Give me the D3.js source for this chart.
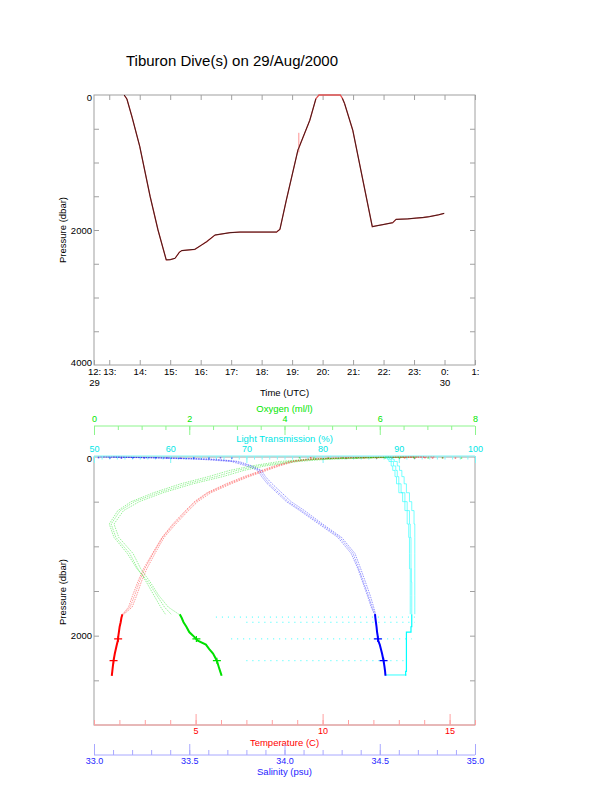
<!DOCTYPE html>
<html>
<head>
<meta charset="utf-8">
<script src="https://cdn.jsdelivr.net/npm/d3@7"></script>
<style>
    body { margin: 0; background: #fff; }
</style>
</head>
<body>
<svg width="612" height="785"></svg>
<script>
// ---- top plot data: dive track (hours UTC since 00:00 on 29 Aug, pressure dbar)
const diveTime = [13.49, 13.58, 13.75, 14.0, 14.34, 14.6, 14.87, 15.0, 15.16, 15.3, 15.38, 15.81, 16.03, 16.20, 16.47, 16.96, 17.29, 18.49, 18.60,
    18.81, 19.19, 19.58, 19.78, 19.88, 20.58, 20.65, 20.72, 20.99, 21.63, 21.75, 21.98, 22.30, 22.41, 22.80, 23.07, 23.30, 23.50, 23.80, 23.99];
const divePres = [0, 60, 330, 760, 1500, 2000, 2443, 2440, 2419, 2330, 2305, 2286, 2222, 2172, 2074, 2040, 2030, 2030, 1990,
    1557, 817, 374, 55, 0, 0, 50, 125, 522, 1951, 1940, 1920, 1892, 1843, 1835, 1823, 1815, 1803, 1775, 1753];
// red glitch on the ascent
const glitchTime = [19.22, 19.22];
const glitchPres = [560, 850];

const hourTicks = [12.5, 13, 14, 15, 16, 17, 18, 19, 20, 21, 22, 23, 24, 25];
const hourLabels = ["12:", "13:", "14:", "15:", "16:", "17:", "18:", "19:", "20:", "21:", "22:", "23:", "0:", "1:"];
const dateTicks = [12.5, 24];
const dateLabels = ["29", "30"];
const diveYTicks = [0, 2000, 4000];

// ---- bottom plot data: profiles, three casts each
const castPres = [0, 10, 25, 50, 100, 150, 220, 300, 400, 500, 600, 750, 900, 1080, 1250, 1400, 1550, 1680, 1760];
const tempCast1 = [14.0, 11.0, 9.5, 8.8, 8.2, 7.7, 7.0, 6.3, 5.5, 5.0, 4.65, 4.15, 3.7, 3.33, 3.0, 2.78, 2.6, 2.42, 2.15];
const tempCast2 = [13.6, 10.7, 9.3, 8.7, 8.1, 7.6, 6.9, 6.2, 5.45, 4.95, 4.6, 4.1, 3.68, 3.3, 2.95, 2.72, 2.52, 2.36, 2.12];
const tempCast3 = [14.4, 11.3, 9.7, 8.9, 8.3, 7.8, 7.1, 6.4, 5.6, 5.08, 4.72, 4.22, 3.76, 3.4, 3.08, 2.86, 2.68, 2.5, 2.18];
const salCast1 = [33.05, 33.35, 33.6, 33.74, 33.82, 33.87, 33.89, 33.92, 33.97, 34.02, 34.09, 34.19, 34.29, 34.36, 34.39, 34.415, 34.44, 34.46, 34.475];
const salCast2 = [33.1, 33.4, 33.64, 33.76, 33.83, 33.88, 33.9, 33.935, 33.985, 34.035, 34.105, 34.2, 34.3, 34.37, 34.4, 34.425, 34.45, 34.468, 34.478];
const salCast3 = [33.02, 33.3, 33.55, 33.72, 33.8, 33.86, 33.88, 33.91, 33.96, 34.01, 34.08, 34.18, 34.28, 34.35, 34.385, 34.41, 34.435, 34.455, 34.472];
const oxyCast1 = [6.5, 5.6, 4.7, 4.1, 3.45, 3.0, 2.55, 1.95, 1.35, 0.85, 0.55, 0.36, 0.46, 0.75, 0.92, 1.1, 1.26, 1.4, 1.5];
const oxyCast2 = [6.2, 5.3, 4.5, 3.9, 3.3, 2.85, 2.4, 1.82, 1.25, 0.78, 0.5, 0.32, 0.42, 0.7, 0.9, 1.14, 1.32, 1.48, 1.62];
const oxyCast3 = [6.8, 5.9, 4.9, 4.3, 3.6, 3.15, 2.7, 2.08, 1.45, 0.95, 0.62, 0.42, 0.52, 0.82, 0.98, 1.18, 1.36, 1.56, 1.78];
const ltCast1 = [88.4, 88.6, 88.8, 89.0, 89.3, 89.6, 89.8, 90.0, 90.3, 90.8, 91.1, 91.4, 91.5, 91.6, 91.6, 91.65, 91.7, 91.7, 91.7];
const ltCast2 = [88.8, 89.0, 89.2, 89.4, 89.8, 90.1, 90.4, 90.7, 91.0, 91.4, 91.7, 92.0, 92.1, 92.1, 92.1, 92.1, 92.1, 92.1, 92.1];
const ltCast3 = [88.2, 88.3, 88.5, 88.7, 89.0, 89.2, 89.5, 89.7, 90.0, 90.5, 90.8, 91.1, 91.3, 91.4, 91.4, 91.5, 91.5, 91.5, 91.5];

// bottom time (dense, drawn bold)
const deepPres = [1760, 1800, 1850, 1900, 1960, 2000, 2055, 2100, 2150, 2200, 2280, 2350, 2400, 2449];
const tempDeep = [2.12, 2.08, 2.05, 2.01, 1.98, 1.96, 1.94, 1.9, 1.86, 1.82, 1.77, 1.74, 1.72, 1.7];
const salDeep = [34.475, 34.477, 34.48, 34.483, 34.486, 34.489, 34.492, 34.5, 34.506, 34.512, 34.52, 34.525, 34.528, 34.53];
const oxyDeep = [1.8, 1.84, 1.88, 1.94, 2.0, 2.08, 2.18, 2.35, 2.42, 2.5, 2.58, 2.62, 2.65, 2.68];
const ltDeep = [91.7, 91.7, 91.7, 91.7, 91.6, 91.0, 91.0, 91.0, 91.0, 91.0, 91.0, 91.0, 91.0, 90.9];

// light transmission drop-outs at depth
const spikePres = [1792, 1850, 2036, 2280, 2440];
const spikeLow = [66, 70, 68, 70, 88.2];
const spikeHigh = [92.1, 92.1, 91.7, 91.0, 91.0];

// "+" marks where the vehicle sat
const crossPres = [2036, 2280];
const crossTemp = [1.95, 1.77];
const crossSal = [34.49, 34.52];
const crossOxy = [2.15, 2.58];

// surface scatter
const surfPres = [2, 5, 8, 3, 6, 1, 4, 7, 2, 5, 3, 6];
const tempSurf = [9.5, 10.2, 10.9, 11.6, 12.1, 12.7, 13.2, 13.6, 14.0, 14.3, 14.7, 15.2];
const oxySurf = [4.3, 4.6, 4.9, 5.2, 5.5, 5.8, 6.1, 6.4, 6.7, 7.0, 7.3, 7.7];
const salSurf = [33.02, 33.08, 33.14, 33.2, 33.26, 33.32, 33.38, 33.45, 33.52, 33.6, 33.66, 33.72];

// axis ticks
const tempTicks = [5, 10, 15];
const salTicks = [33.0, 33.5, 34.0, 34.5, 35.0];
const oxyTicks = [0, 2, 4, 6, 8];
const ltTicks = [50, 60, 70, 80, 90, 100];
const profYTicks = [0, 2000];

let svg = d3.select("svg").style("font-family", "'Liberation Sans', Arial, sans-serif");
const boxGray = "#a0a0a0";

// style an axis group after calling it
function styleAxis(g, lineColor, textColor, fontSize) {
    g.select(".domain").remove();
    g.selectAll(".tick line").attr("stroke", lineColor);
    g.selectAll(".tick text").attr("fill", textColor).style("font-size", fontSize + "px")
        .style("font-family", "'Liberation Sans', Arial, sans-serif");
}

// title
svg.append("text")
    .attr("x", 232).attr("y", 66)
    .attr("text-anchor", "middle")
    .style("font-size", "15px")
    .text("Tiburon Dive(s) on 29/Aug/2000");

// ================= top plot =================
let tx = d3.scaleLinear().domain([12.5, 25]).range([94, 475]);
let ty = d3.scaleLinear().domain([0, 4000]).range([95, 365]);

svg.append("rect")
    .attr("x", tx(12.5)).attr("y", ty(0))
    .attr("width", tx(25) - tx(12.5)).attr("height", ty(4000) - ty(0))
    .attr("fill", "none").attr("stroke", boxGray);

// hour ticks top and bottom
svg.append("g").attr("transform", "translate(0," + ty(0) + ")")
    .call(d3.axisTop(tx).tickValues(hourTicks.slice(1)).tickSize(-5).tickFormat(""))
    .call(g => styleAxis(g, boxGray, "#000", 9));
svg.append("g").attr("transform", "translate(0," + ty(4000) + ")")
    .call(d3.axisBottom(tx).tickValues(hourTicks).tickSize(-5).tickPadding(3)
        .tickFormat((d, i) => hourLabels[i]))
    .call(g => styleAxis(g, boxGray, "#000", 9.5));
svg.append("g").attr("transform", "translate(0," + (ty(4000) + 11) + ")")
    .call(d3.axisBottom(tx).tickValues(dateTicks).tickSize(0).tickPadding(3)
        .tickFormat((d, i) => dateLabels[i]))
    .call(g => styleAxis(g, boxGray, "#000", 9.5));

// pressure ticks left and right
svg.append("g").attr("transform", "translate(" + tx(12.5) + ",0)")
    .call(d3.axisLeft(ty).tickValues(d3.range(500, 4000, 500)).tickSize(-5).tickFormat(""))
    .call(g => styleAxis(g, boxGray, "#000", 9));
svg.append("g").attr("transform", "translate(" + tx(12.5) + ",0)")
    .call(d3.axisLeft(ty).tickValues(diveYTicks).tickSize(0).tickPadding(2).tickFormat(d3.format("d")))
    .call(g => styleAxis(g, boxGray, "#000", 9.5))
    .call(g => g.selectAll(".tick text").attr("y", d => d == 0 ? 2 : (d == 4000 ? -3 : 0)));
svg.append("g").attr("transform", "translate(" + tx(25) + ",0)")
    .call(d3.axisRight(ty).tickValues(d3.range(500, 4000, 500)).tickSize(-5).tickFormat(""))
    .call(g => styleAxis(g, boxGray, "#000", 9));

svg.append("text")
    .attr("transform", "translate(66," + ((ty(0) + ty(4000)) / 2) + ") rotate(-90)")
    .attr("text-anchor", "middle")
    .style("font-size", "9.5px")
    .text("Pressure (dbar)");
svg.append("text")
    .attr("x", (tx(12.5) + tx(25)) / 2).attr("y", 396)
    .attr("text-anchor", "middle")
    .style("font-size", "9.5px")
    .text("Time (UTC)");

let dive = diveTime.map((t, i) => ({ t: t, p: divePres[i] }));
let diveLine = d3.line().x(d => tx(d.t)).y(d => ty(d.p));

svg.append("path")
    .datum(dive)
    .attr("d", diveLine)
    .attr("fill", "none").attr("stroke", "#e05050").attr("stroke-width", 1.3);
svg.append("path")
    .datum(glitchTime.map((t, i) => ({ t: t, p: glitchPres[i] })))
    .attr("d", diveLine)
    .attr("fill", "none").attr("stroke", "#ff9090").attr("stroke-width", 1);
// black track drawn on top, not along the surface stretch
svg.append("path")
    .datum(dive)
    .attr("d", diveLine.defined((d, i) => !(d.p == 0 && i > 2)))
    .attr("fill", "none").attr("stroke", "#1a0a0a").attr("stroke-width", 0.8);

// ================= bottom plot =================
let py = d3.scaleLinear().domain([0, 3000]).range([457, 725]);
let xTemp = d3.scaleLinear().domain([1, 16]).range([94, 475]);
let xSal = d3.scaleLinear().domain([33, 35]).range([94, 475]);
let xOxy = d3.scaleLinear().domain([0, 8]).range([94, 475]);
let xLt = d3.scaleLinear().domain([50, 100]).range([94, 475]);

svg.append("rect")
    .attr("x", 94).attr("y", py(0))
    .attr("width", 381).attr("height", py(3000) - py(0))
    .attr("fill", "none").attr("stroke", boxGray);

// pressure ticks
svg.append("g").attr("transform", "translate(94,0)")
    .call(d3.axisLeft(py).tickValues(d3.range(500, 3000, 500)).tickSize(-5).tickFormat(""))
    .call(g => styleAxis(g, boxGray, "#000", 9));
svg.append("g").attr("transform", "translate(94,0)")
    .call(d3.axisLeft(py).tickValues(profYTicks).tickSize(0).tickPadding(2).tickFormat(d3.format("d")))
    .call(g => styleAxis(g, boxGray, "#000", 9.5))
    .call(g => g.selectAll(".tick text").attr("y", d => d == 0 ? 1.5 : 0));
svg.append("g").attr("transform", "translate(475,0)")
    .call(d3.axisRight(py).tickValues(d3.range(500, 3000, 500)).tickSize(-5).tickFormat(""))
    .call(g => styleAxis(g, boxGray, "#000", 9));
svg.append("text")
    .attr("transform", "translate(66," + ((py(0) + py(3000)) / 2 + 1) + ") rotate(-90)")
    .attr("text-anchor", "middle")
    .style("font-size", "9.5px")
    .text("Pressure (dbar)");

// colored x axes: scale, y of line, tick dir, majors, minors, colors, title
function colorAxis(scale, y, top, majors, minors, majorLen, minorLen, lineColor, textColor, title, titleY, fmt) {
    let mk = top ? d3.axisTop : d3.axisBottom;
    let g = svg.append("g").attr("transform", "translate(0," + y + ")");
    g.append("line")
        .attr("x1", scale.range()[0]).attr("x2", scale.range()[1])
        .attr("stroke", lineColor);
    g.append("g")
        .call(mk(scale).tickValues(minors).tickSize(-minorLen).tickFormat(""))
        .call(a => styleAxis(a, lineColor, textColor, 9));
    g.append("g")
        .call(mk(scale).tickValues(majors).tickSize(-majorLen).tickPadding(top ? 4.5 : 3).tickFormat(fmt))
        .call(a => styleAxis(a, lineColor, textColor, 9));
    svg.append("text")
        .attr("x", 284.5).attr("y", titleY)
        .attr("text-anchor", "middle")
        .attr("fill", textColor)
        .style("font-size", "9.5px")
        .text(title);
}

colorAxis(xOxy, 426, true, oxyTicks, d3.range(0, 8.01, 0.5), 9, 4,
    "#8cf58c", "#00e600", "Oxygen (ml/l)", 412, d3.format("d"));
colorAxis(xLt, 456, true, ltTicks, d3.range(50, 100.01, 1), 7, 3.5,
    "#7ff5f5", "#00e6e6", "Light Transmission (%)", 441.5, d3.format("d"));
colorAxis(xTemp, 725, false, tempTicks, d3.range(1, 16.01, 1), 11, 5,
    "#ffa0a0", "#ff0000", "Temperature (C)", 745.5, d3.format("d"));
colorAxis(xSal, 755, false, salTicks, d3.range(33, 35.01, 0.1), 11, 5,
    "#a8a8ff", "#1e1eff", "Salinity (psu)", 774.5, d3.format(".1f"));

// profiles
let profiles = [
    { x: xTemp, color: "#ff0000", casts: [tempCast1, tempCast2, tempCast3], deep: tempDeep, cross: crossTemp, surf: tempSurf, step: false },
    { x: xSal, color: "#0000ff", casts: [salCast1, salCast2, salCast3], deep: salDeep, cross: crossSal, surf: salSurf, step: false },
    { x: xOxy, color: "#00e000", casts: [oxyCast1, oxyCast2, oxyCast3], deep: oxyDeep, cross: crossOxy, surf: oxySurf, step: false },
    { x: xLt, color: "#00ffff", casts: [ltCast1, ltCast2, ltCast3], deep: ltDeep, cross: null, surf: null, step: true }
];

// light transmission drop-outs
spikePres.forEach(function (p, i) {
    svg.append("line")
        .attr("x1", xLt(spikeLow[i])).attr("x2", xLt(spikeHigh[i]))
        .attr("y1", py(p)).attr("y2", py(p))
        .attr("stroke", "#00ffff").attr("stroke-width", 1)
        .attr("stroke-dasharray", i == 4 ? null : "1,5")
        .attr("opacity", 0.8);
});

profiles.forEach(function (prof) {
    let line = d3.line()
        .x(d => prof.x(d.v))
        .y(d => py(d.p))
        .curve(prof.step ? d3.curveStepAfter : d3.curveLinear);
    prof.casts.forEach(function (cast) {
        svg.append("path")
            .datum(cast.map((v, i) => ({ v: v, p: castPres[i] })))
            .attr("d", line)
            .attr("fill", "none")
            .attr("stroke", prof.color)
            .attr("stroke-width", 0.9)
            .attr("stroke-dasharray", prof.step ? null : "1.5,1")
            .attr("opacity", prof.step ? 0.6 : 0.45);
    });
    svg.append("path")
        .datum(prof.deep.map((v, i) => ({ v: v, p: deepPres[i] })))
        .attr("d", line)
        .attr("fill", "none")
        .attr("stroke", prof.color)
        .attr("stroke-width", prof.step ? 1.2 : 2);
    if (prof.cross) {
        prof.cross.forEach(function (v, i) {
            let cx = prof.x(v), cy = py(crossPres[i]);
            svg.append("path")
                .attr("d", "M" + (cx - 4) + "," + cy + "H" + (cx + 4) + "M" + cx + "," + (cy - 3) + "V" + (cy + 3))
                .attr("stroke", prof.color).attr("stroke-width", 1.2);
        });
    }
    if (prof.surf) {
        svg.selectAll(null)
            .data(prof.surf.map((v, i) => ({ v: v, p: surfPres[i] })))
            .enter().append("rect")
            .attr("x", d => prof.x(d.v))
            .attr("y", d => py(d.p))
            .attr("width", 1.5).attr("height", 1.2)
            .attr("fill", prof.color)
            .attr("opacity", 0.6);
    }
});
</script>
</body>
</html>
